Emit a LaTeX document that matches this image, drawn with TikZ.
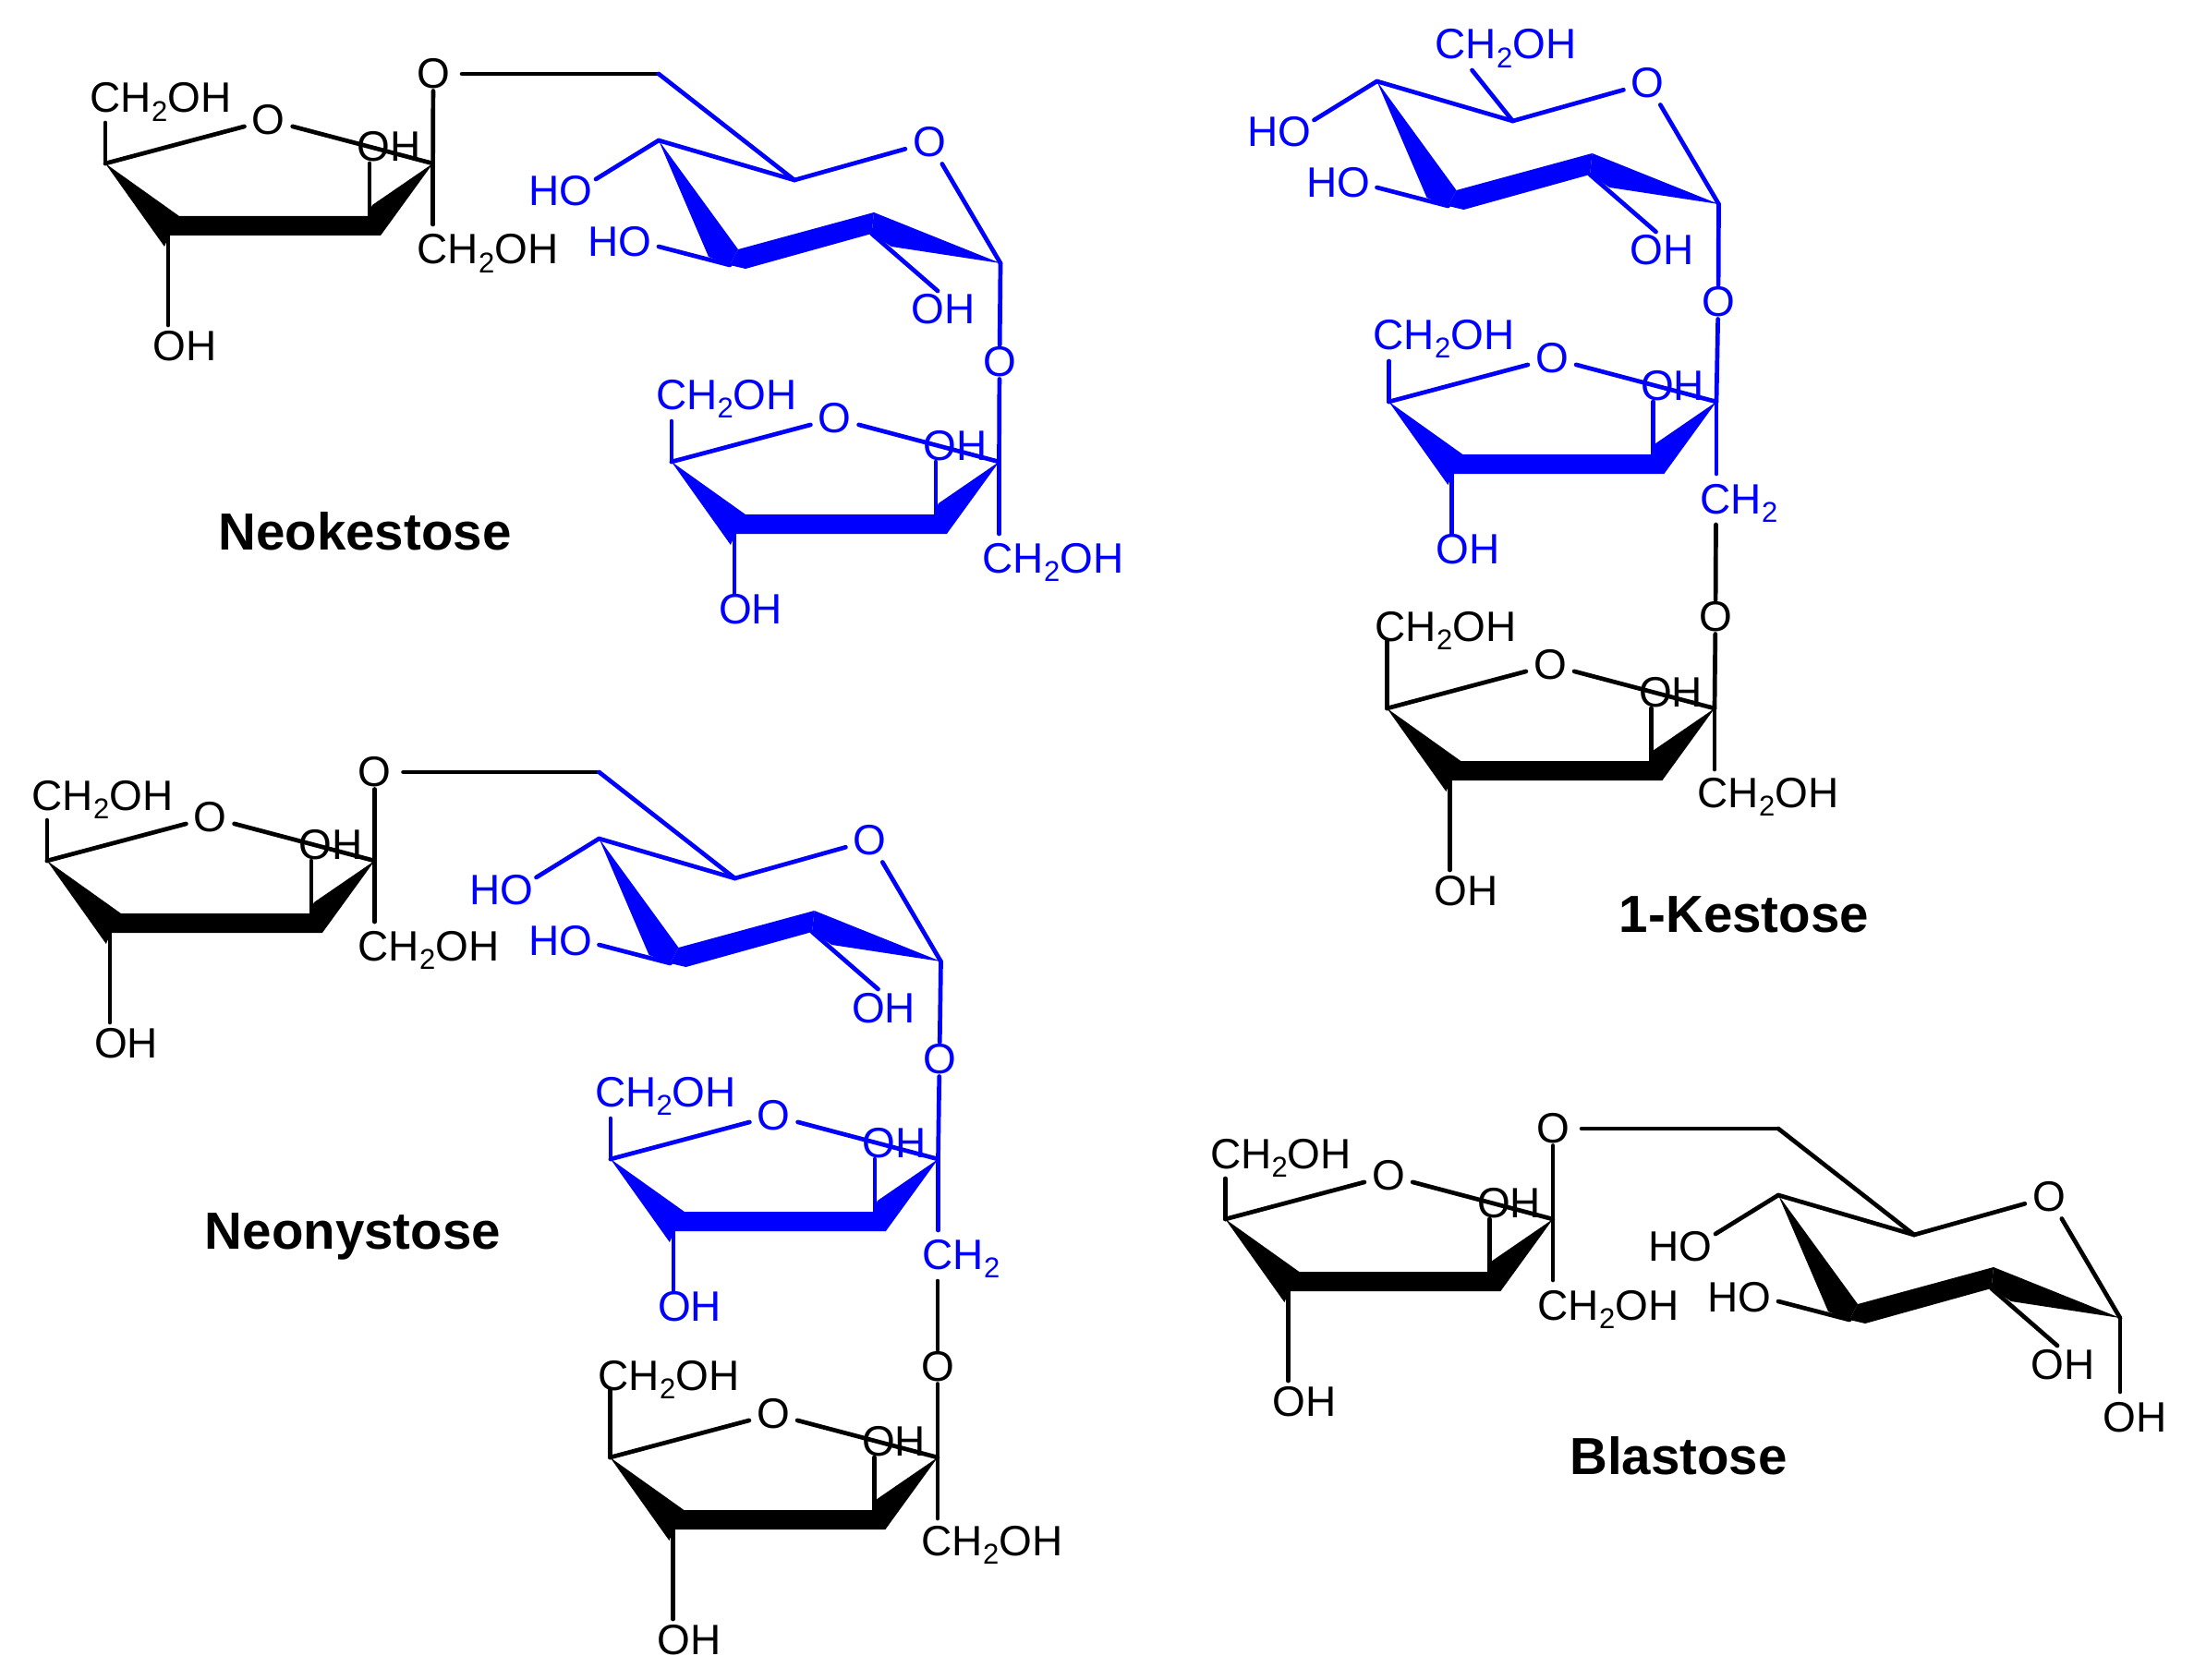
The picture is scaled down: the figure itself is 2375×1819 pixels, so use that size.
\documentclass[tikz,border=0pt]{standalone}
\usepackage{fontspec}
\setmainfont{Liberation Sans}
\definecolor{pblue}{RGB}{0,0,255}
\newcommand{\subtwo}{\raisebox{-0.2em}{\fontsize{31}{31}\selectfont 2}}
\newcommand{\chtwooh}{CH\subtwo OH}
\tikzset{
  bond/.style={line width=4.7pt,line cap=round,line join=round},
  lab/.style={inner sep=0pt,anchor=base west,xshift=-2.5pt,font=\fontsize{46}{54}\selectfont},
  oxy/.style={inner xsep=13pt,inner ysep=2pt,anchor=center,font=\fontsize{46}{54}\selectfont},
  title/.style={inner sep=0pt,anchor=center,font=\fontsize{56.5}{66}\selectfont\bfseries}
}
% furanose ring: name, x, y, colour, lower stem end, lower OH baseline, top stem, top label x, y
\newcommand{\furabase}[9]{%
\begin{scope}[shift={(#2,#3)},color=#4]
  \coordinate (#1D) at (0,0);
  \coordinate (#1A) at (-354.6,0);
  \coordinate (#1S) at (-354.6,#7);
  \coordinate (#1T) at (-286.6,78);
  \coordinate (#1B) at (-286.6,#5);
  \coordinate (#1I) at (-68.6,0);
  \coordinate (#1J) at (-68.6,57);
  \node[oxy,inner xsep=8pt,inner ysep=5pt] (#1O) at (-178,-47) {O};
  \node[lab] (#1L1) at (#8,#9) {\chtwooh};
  \node[lab] (#1L2) at (-79.6,-2) {OH};
  \node[lab] (#1L3) at (-301,#6) {OH};
  \fill[line join=round] (-354.6,0) -- (-274.6,57) -- (-70.6,57) -- (-65.6,45) -- (0,0) -- (-56.6,78) -- (-285.6,78) -- (-290.6,90) -- cycle;
  \draw[bond] (#1A) -- (#1S);
  \draw[bond] (#1A) -- (#1O);
  \draw[bond] (#1O) -- (#1D);
  \draw[bond] (#1I) -- (#1J);
  \draw[bond] (#1T) -- (#1B);
\end{scope}}
\newcommand{\furaK}[3]{\furabase{#1}{#2}{#3}{black}{175}{213}{-44}{-368.6}{-55}}
\newcommand{\furaB}[3]{\furabase{#1}{#2}{#3}{pblue}{143}{175}{-44}{-369}{-57}}
\newcommand{\furaL}[3]{\furabase{#1}{#2}{#3}{black}{175}{213}{-74}{-365}{-72.5}}
% pyranose ring: name, x, y of anomeric carbon, colour
\newcommand{\pyra}[4]{%
\begin{scope}[shift={(#2,#3)},color=#4]
  \coordinate (#1C) at (0,0);
  \coordinate (#1C6) at (-370,-205);
  \coordinate (#1P) at (-223,-90);
  \coordinate (#1Q) at (-370,-133);
  \coordinate (#1E) at (-438,-91);
  \coordinate (#1F) at (-370,-18);
  \coordinate (#1G) at (-293,2);
  \coordinate (#1H) at (-139.4,-32);
  \coordinate (#1K) at (-68,30);
  \node[oxy,inner xsep=8pt,inner ysep=7pt] (#1O) at (-77,-131) {O};
  \node[lab] (#1L1) at (-508,-62) {HO};
  \node[lab] (#1L2) at (-444,-7) {HO};
  \node[lab] (#1L3) at (-94,66) {OH};
  \fill (#1Q) -- (-284,-15) -- (-293,2) -- (-316,-7) -- cycle;
  \fill (-284,-15) -- (-137,-55) -- (-139.4,-32) -- (-276,6) -- (-293,2) -- cycle;
  \fill (-137,-55) -- (0,0) -- (-118,-18) -- (-139.4,-32) -- cycle;
  \draw[bond] (#1Q) -- (#1P);
  \draw[bond] (#1P) -- (#1O);
  \draw[bond] (#1O) -- (#1C);
  \draw[bond] (#1Q) -- (#1E);
  \draw[bond] (#1F) -- (#1G);
  \draw[bond] (#1H) -- (#1K);
\end{scope}}
\begin{document}
\begin{tikzpicture}[x=1pt,y=-1pt]
\useasboundingbox (0,0) rectangle (2375,1819);
% ---------- Neokestose
\furaK{a}{468.6}{177}
\pyra{b}{1083}{285}{pblue}
\furaB{c}{1081.5}{500}
\node[oxy] (aO2) at (469,80) {O};
\draw[bond] (aO2) -- (aD);
\draw[bond] (aD) -- ++(0,66) coordinate (aE);
\node[lab] (aCH) at (454,286) {\chtwooh};
\draw[bond] (aO2) -- (bC6);
\draw[bond,pblue] (bC6) -- (bP);
\node[oxy,pblue] (bO2) at (1082,392) {O};
\draw[bond,pblue] (bC) -- (bO2);
\draw[bond,pblue] (bO2) -- (cD);
\draw[bond,pblue] (cD) -- ++(0,78) coordinate (cE);
\node[lab,pblue] (cCH) at (1066,620) {\chtwooh};
\node[title] (t1) at (395,575) {Neokestose};
% ---------- Neonystose
\furaK{d}{405.5}{932}
\pyra{e}{1018.5}{1041}{pblue}
\furaB{f}{1015.5}{1255}
\furaL{g}{1015}{1578}
\node[oxy] (dO2) at (405.5,836) {O};
\draw[bond] (dO2) -- (dD);
\draw[bond] (dD) -- ++(0,66) coordinate (dE);
\node[lab] (dCH) at (390,1040) {\chtwooh};
\draw[bond] (dO2) -- (eC6);
\draw[bond,pblue] (eC6) -- (eP);
\node[oxy,pblue] (eO2) at (1017,1147) {O};
\draw[bond,pblue] (eC) -- (eO2);
\draw[bond,pblue] (eO2) -- (fD);
\node[lab,pblue] (fCH) at (1001,1374) {CH\subtwo};
\coordinate (fE) at (1015.5,1332);
\draw[bond,pblue] (fD) -- (fE);
\node[oxy] (fO2) at (1015,1480) {O};
\coordinate (fX) at (1015,1387);
\draw[bond] (fX) -- (fO2);
\draw[bond] (fO2) -- (gD);
\draw[bond] (gD) -- ++(0,66) coordinate (gE);
\node[lab] (gCH) at (1000,1684) {\chtwooh};
\node[title] (t2) at (382,1339) {Neonystose};
% ---------- 1-Kestose
\pyra{h}{1860.5}{221}{pblue}
\furaB{i}{1858}{435}
\furaL{j}{1856}{767}
\begin{scope}[color=pblue]
\node[lab] (hCH) at (1556,64) {\chtwooh};
\path (hP) ++(-44,-55) coordinate (hS);
\draw[bond] (hP) -- (hS);
\node[oxy] (hO2) at (1860,327) {O};
\draw[bond] (hC) -- (hO2);
\draw[bond] (hO2) -- (iD);
\coordinate (iE) at (1858,513);
\draw[bond] (iD) -- (iE);
\node[lab] (iCH) at (1843,556) {CH\subtwo};
\end{scope}
\coordinate (iX) at (1857.5,568);
\node[oxy] (iO2) at (1857,668) {O};
\draw[bond] (iX) -- (iO2);
\draw[bond] (iO2) -- (jD);
\draw[bond] (jD) -- ++(0,66) coordinate (jE);
\node[lab] (jCH) at (1840,874) {\chtwooh};
\node[title] (t3) at (1888,990) {1-Kestose};
% ---------- Blastose
\furaK{k}{1681}{1320}
\pyra{m}{2295}{1427}{black}
\node[oxy] (kO2) at (1681,1222) {O};
\draw[bond] (kO2) -- (kD);
\draw[bond] (kD) -- ++(0,66) coordinate (kE);
\node[lab] (kCH) at (1667,1429) {\chtwooh};
\draw[bond] (kO2) -- (mC6);
\draw[bond] (mC6) -- (mP);
\coordinate (mZ) at (2295,1507);
\draw[bond] (mC) -- (mZ);
\node[lab] (mOH) at (2279,1550) {OH};
\node[title] (t4) at (1817,1576) {Blastose};
\end{tikzpicture}
\end{document}
